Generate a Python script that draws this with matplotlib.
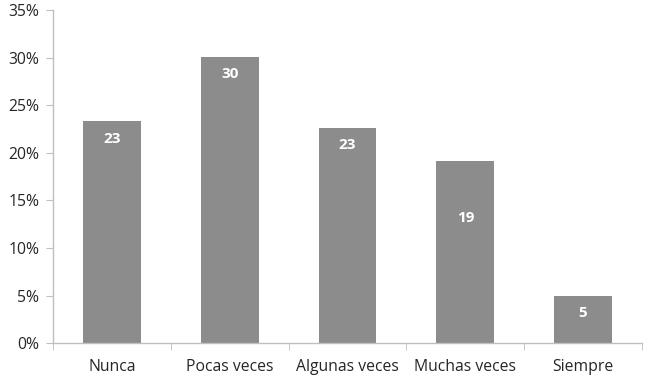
import matplotlib.pyplot as plt
from matplotlib.ticker import PercentFormatter

# Datos
categorias = ["Nunca", "Pocas veces", "Algunas veces", "Muchas veces", "Siempre"]
porcentajes = [23.3, 30.1, 22.6, 19.1, 5.0]
etiquetas = ["23", "30", "23", "19", "5"]

plt.rcParams['font.family'] = ['Open Sans', 'DejaVu Sans']

fig = plt.figure(figsize=(6.59, 3.84), dpi=100)
ax = fig.add_axes([0.081, 0.106, 0.893, 0.868])

x = range(len(categorias))
barras = ax.bar(x, porcentajes, width=0.49, color="#8c8c8c", zorder=2)

# Etiquetas blancas dentro de las barras
for i, (b, txt) in enumerate(zip(barras, etiquetas)):
    desplaz = -41 if categorias[i] == "Muchas veces" else -12.5
    ax.annotate(txt, (b.get_x() + b.get_width() / 2, b.get_height()),
                xytext=(0, desplaz), textcoords="offset points",
                ha="center", va="center", color="white",
                fontsize=11, fontweight="bold")

ax.set_xlim(-0.5, len(categorias) - 0.5)
ax.set_ylim(0, 35)
ax.set_yticks(range(0, 36, 5))
ax.yaxis.set_major_formatter(PercentFormatter(decimals=0))

ax.set_xticks(list(x))
ax.set_xticklabels(categorias)
ax.set_xticks([i + 0.5 for i in range(-1, len(categorias))], minor=True)
ax.tick_params(axis="x", which="major", length=0, pad=11)
ax.tick_params(axis="x", which="minor", length=5, color="#bfbfbf", direction="out")
ax.tick_params(axis="y", length=5, color="#bfbfbf", pad=5)
ax.tick_params(labelsize=11.3, labelcolor="#262626")

for lado in ["top", "right"]:
    ax.spines[lado].set_visible(False)
for lado in ["left", "bottom"]:
    ax.spines[lado].set_color("#bfbfbf")
    ax.spines[lado].set_linewidth(1)

fig.savefig("out.png", dpi=100)
